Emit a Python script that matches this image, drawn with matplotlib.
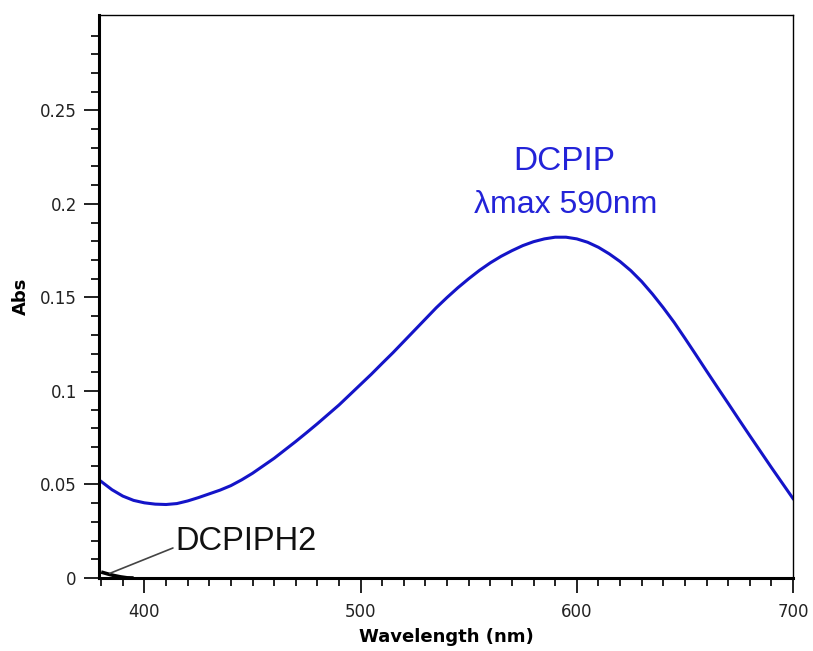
import matplotlib
matplotlib.use("Agg")
import matplotlib.pyplot as plt
from matplotlib.ticker import FixedLocator
import numpy as np

# DCPIP (oxidised) spectrum, every 5 nm
wavelength = list(range(380, 701, 5))
abs_dcpip = [0.0516, 0.0472, 0.0438, 0.0415, 0.0402, 0.0395, 0.0393, 0.0398,
             0.0412, 0.043, 0.045, 0.047, 0.0494, 0.0525, 0.056, 0.060,
             0.064, 0.0685, 0.073, 0.0777, 0.0825, 0.0875, 0.0925, 0.098,
             0.1035, 0.109, 0.1148, 0.1205, 0.1265, 0.1325, 0.1385, 0.1445,
             0.150, 0.1552, 0.160, 0.1645, 0.1685, 0.172, 0.175, 0.1777,
             0.1798, 0.1813, 0.1822, 0.1822, 0.1813, 0.1795, 0.1768, 0.1733,
             0.1692, 0.1643, 0.1585, 0.1518, 0.1445, 0.1367, 0.1282, 0.1195,
             0.1107, 0.102, 0.0934, 0.0847, 0.0761, 0.0676, 0.0591, 0.0508,
             0.0425]

# DCPIPH2 (reduced) - only just above zero at the short end
wl_reduced = [380, 383, 386, 389, 392, 395]
abs_reduced = [0.0032, 0.0022, 0.0013, 0.0006, 0.0001, 0.0]

y_major = [0, 0.05, 0.1, 0.15, 0.2, 0.25]
y_labels = ["0", "0.05", "0.1", "0.15", "0.2", "0.25"]

fig = plt.figure(figsize=(8.13, 6.51), dpi=100)
ax = fig.add_axes([0.1218, 0.1121, 0.8536, 0.8649])

ax.plot(wl_reduced, abs_reduced, color="black", lw=2.6, solid_capstyle="butt")
ax.plot(wavelength, abs_dcpip, color="#1414c8", lw=2.2)

ax.set_xlim(379, 700)
ax.set_ylim(0, 0.301)

ax.xaxis.set_major_locator(FixedLocator([400, 500, 600, 700]))
ax.xaxis.set_minor_locator(FixedLocator(np.arange(380, 700, 10)))
ax.yaxis.set_major_locator(FixedLocator(y_major))
ax.set_yticklabels(y_labels)
ax.yaxis.set_minor_locator(FixedLocator(np.arange(0.01, 0.295, 0.01)))

ax.tick_params(which="major", direction="out", length=11, width=1.4,
               labelsize=12, color="#222222", labelcolor="#222222")
ax.tick_params(which="minor", direction="out", length=6, width=1.4,
               color="#222222")
ax.tick_params(axis="x", which="major", pad=7)
ax.tick_params(axis="y", which="major", pad=5)

for side in ["left", "bottom"]:
    ax.spines[side].set_linewidth(2.2)
for side in ["top", "right"]:
    ax.spines[side].set_linewidth(1.0)

ax.set_xlabel("Wavelength (nm)", fontsize=13, fontweight="bold")
ax.set_ylabel("Abs", fontsize=13, fontweight="bold")
ax.xaxis.set_label_coords(0.5, -0.088)
ax.yaxis.set_label_coords(-0.099, 0.5)

blue_txt = "#2323d8"
ax.text(594, 0.2228, "DCPIP", color=blue_txt, fontsize=24,
        family="Liberation Sans", ha="center", va="center")
ax.text(595, 0.1995, "\u03bbmax 590nm", color=blue_txt, fontsize=23,
        family="Liberation Sans", ha="center", va="center")

ax.annotate("DCPIPH2", xy=(384, 0.0025), xytext=(414.5, 0.0197),
            fontsize=23.5, family="Liberation Sans", color="#111111",
            ha="left", va="center",
            arrowprops=dict(arrowstyle="-", color="#444444", lw=1.2,
                            shrinkA=0, shrinkB=0, relpos=(-0.02, 0.28)))

fig.savefig("out.png", dpi=100)
